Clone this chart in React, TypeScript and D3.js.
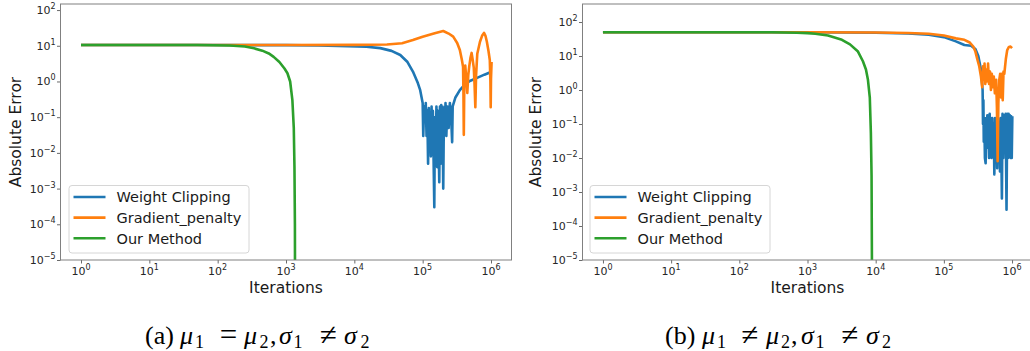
import { useEffect, useRef } from 'react';
import * as d3 from 'd3';

type Pt = [number, number];

// ---------- data ----------
const seriesNames = ['Weight Clipping', 'Gradient_penalty', 'Our Method'];
const seriesColors = ['#1f77b4', '#ff7f0e', '#2ca02c'];
const xExponents = [0, 1, 2, 3, 4, 5, 6];
const yExponents = [-5, -4, -3, -2, -1, 0, 1, 2];

// panel (a)
const weightClippingA: Pt[] = [
  [1, 10.5], [100, 10.5], [1000, 10.4], [3000, 10.2], [8000, 9.8], [15000, 9.4],
  [24000, 8.6], [35000, 7.2], [47000, 5.5], [60000, 3.5], [72000, 1.9], [85000, 0.9],
  [92000, 0.57], [100000, 0.25],
  [102000, 0.03], [105000, 0.2], [108000, 0.08], [111000, 0.25], [114000, 0.03],
  [117000, 0.15], [120000, 0.005], [123000, 0.18], [126000, 0.02], [129000, 0.12],
  [132000, 0.008], [135000, 0.2], [138000, 0.02], [141000, 0.15], [144000, 0.01],
  [148000, 0.0003], [151000, 0.1], [155000, 0.01], [159000, 0.2], [163000, 0.004],
  [167000, 0.15], [171000, 0.02], [175000, 0.0015], [179000, 0.2], [183000, 0.005],
  [187000, 0.22], [191000, 0.03], [195000, 0.2], [200000, 0.001], [205000, 0.18],
  [210000, 0.04], [216000, 0.25], [222000, 0.03], [230000, 0.2], [240000, 0.05],
  [250000, 0.25], [262000, 0.08], [270000, 0.02], [275000, 0.2], [300000, 0.35],
  [350000, 0.57], [420000, 0.85], [500000, 1.05], [650000, 1.3], [800000, 1.55],
  [1000000, 1.85],
];
const gradientPenaltyA: Pt[] = [
  [1, 10.5], [1000, 10.5], [10000, 10.6], [30000, 10.9], [50000, 11.8], [72000, 14.5],
  [100000, 18], [150000, 22.5], [200000, 26], [240000, 22], [280000, 18], [320000, 12],
  [350000, 7.6], [375000, 4], [390000, 2.6], [395000, 0.5], [400000, 0.032], [407000, 1],
  [420000, 2.8], [435000, 1.2], [450000, 0.48], [465000, 1.5], [480000, 2.6], [500000, 4.5],
  [520000, 6.3], [540000, 4], [560000, 2.4], [575000, 0.8], [590000, 0.19], [605000, 1.5],
  [630000, 6], [690000, 13], [740000, 19], [790000, 23], [830000, 19], [870000, 13],
  [920000, 7], [960000, 4], [980000, 1], [990000, 0.19], [1000000, 1.2], [1020000, 3.5],
];
const ourMethodA: Pt[] = [
  [1, 10.5], [50, 10.5], [150, 10.2], [250, 9.5], [340, 8.5], [450, 7.3], [560, 6.1],
  [660, 4.9], [800, 3.5], [950, 2.3], [1050, 1.7], [1150, 1], [1240, 0.3], [1300, 0.05],
  [1330, 0.004], [1350, 0.0001], [1360, 1e-7],
];

// panel (b)
const weightClippingB: Pt[] = [
  [1, 50], [1000, 50], [10000, 48.5], [30000, 46], [60000, 42], [100000, 36],
  [150000, 27], [200000, 21], [250000, 20], [290000, 16], [320000, 10], [350000, 4],
  [370000, 1],
  [375000, 0.1], [380000, 0.5], [385000, 0.03], [392000, 0.15], [400000, 0.01],
  [410000, 0.007], [418000, 0.15], [426000, 0.02], [434000, 0.18], [442000, 0.04],
  [450000, 0.15], [460000, 0.01], [470000, 0.2], [480000, 0.03], [490000, 0.12],
  [500000, 0.01], [512000, 0.15], [525000, 0.02], [538000, 0.1], [550000, 0.0033],
  [563000, 0.15], [576000, 0.02], [590000, 0.12], [605000, 0.005], [620000, 0.15],
  [635000, 0.03], [650000, 0.1], [665000, 0.004], [680000, 0.15], [695000, 0.02],
  [710000, 0.00065], [725000, 0.2], [745000, 0.01], [765000, 0.18], [785000, 0.02],
  [805000, 0.2], [830000, 0.0003], [850000, 0.2], [870000, 0.01], [890000, 0.2],
  [910000, 0.015], [930000, 0.18], [950000, 0.01], [970000, 0.17], [990000, 0.01],
  [1010000, 0.17],
];
const gradientPenaltyB: Pt[] = [
  [1, 50], [1000, 50], [10000, 49], [30000, 47.5], [60000, 45], [100000, 40],
  [150000, 33], [200000, 30], [240000, 25], [270000, 19], [290000, 13.5], [310000, 8],
  [330000, 5], [350000, 2.5],
  [365000, 1.2], [375000, 5], [385000, 2], [395000, 6], [405000, 1.5], [415000, 4],
  [430000, 1.8], [445000, 6], [460000, 1.5], [475000, 3.5], [490000, 1], [505000, 3],
  [520000, 1.2], [540000, 2.5], [560000, 0.8], [585000, 2], [600000, 0.3], [615000, 0.008],
  [630000, 0.4], [650000, 2], [670000, 3], [690000, 0.6], [710000, 3], [730000, 0.5],
  [750000, 3.5], [770000, 3], [810000, 8], [850000, 15], [900000, 18.5], [950000, 19],
  [1000000, 17],
];
const ourMethodB: Pt[] = [
  [1, 50], [300, 50], [700, 48.5], [1000, 47], [1300, 45], [2000, 40], [3200, 30],
  [4200, 22], [5500, 13.5], [6500, 7], [7200, 4], [7700, 2], [8200, 0.6], [8500, 0.055],
  [8700, 0.003], [8900, 1e-7],
];

type Piece = { t: string; x: number; it?: boolean; sub?: boolean; rel?: boolean };
const captionA: Piece[] = [
  { t: '(a)', x: 145 }, { t: 'μ', x: 180, it: true }, { t: '1', x: 195, sub: true },
  { t: '=', x: 228.5, rel: true }, { t: 'μ', x: 244, it: true }, { t: '2', x: 259.5, sub: true },
  { t: ',', x: 270 }, { t: 'σ', x: 279, it: true }, { t: '1', x: 293.5, sub: true },
  { t: '≠', x: 328.5, rel: true }, { t: 'σ', x: 344, it: true }, { t: '2', x: 360.5, sub: true },
];
const captionB: Piece[] = [
  { t: '(b)', x: 665 }, { t: 'μ', x: 702, it: true }, { t: '1', x: 717, sub: true },
  { t: '≠', x: 750, rel: true }, { t: 'μ', x: 766, it: true }, { t: '2', x: 781, sub: true },
  { t: ',', x: 791 }, { t: 'σ', x: 801, it: true }, { t: '1', x: 815.5, sub: true },
  { t: '≠', x: 850, rel: true }, { t: 'σ', x: 866, it: true }, { t: '2', x: 882, sub: true },
];

const panels = [
  {
    left: 60.5, right: 511.5, top: 4, bottom: 260, yTop: Math.pow(10, 2.17),
    series: [weightClippingA, gradientPenaltyA, ourMethodA],
    legendX: 69, yLabelX: 21, caption: captionA,
  },
  {
    left: 582.5, right: 1032.5, top: 4, bottom: 260, yTop: Math.pow(10, 2.53),
    series: [weightClippingB, gradientPenaltyB, ourMethodB],
    legendX: 590, yLabelX: 541, caption: captionB,
  },
];

const FONT = '"DejaVu Sans", sans-serif';

const App = () => {
  const svgRef = useRef<SVGSVGElement>(null);

  useEffect(() => {
    const svg = d3.select(svgRef.current);
    svg.selectAll('*').remove();

    panels.forEach((p, pi) => {
      const x = d3.scaleLog().domain([Math.pow(10, -0.3), Math.pow(10, 6.3)]).range([p.left, p.right]);
      const y = d3.scaleLog().domain([1e-5, p.yTop]).range([p.bottom, p.top]);
      const g = svg.append('g');

      // clip
      const clipId = `clip-${pi}`;
      g.append('clipPath').attr('id', clipId)
        .append('rect')
        .attr('x', p.left).attr('y', p.top)
        .attr('width', p.right - p.left).attr('height', p.bottom - p.top);

      // minor ticks
      const xMinor: number[] = [];
      for (let e = -1; e <= 6; e++) for (let k = 2; k <= 9; k++) {
        const v = k * Math.pow(10, e);
        if (v >= x.domain()[0] && v <= x.domain()[1]) xMinor.push(v);
      }
      const yMinor: number[] = [];
      for (let e = -5; e <= 2; e++) for (let k = 2; k <= 9; k++) {
        const v = k * Math.pow(10, e);
        if (v <= p.yTop) yMinor.push(v);
      }

      const xAxisG = g.append('g').attr('transform', `translate(0,${p.bottom})`);
      xAxisG.call(d3.axisBottom(x).tickValues(xMinor).tickSize(2).tickSizeOuter(0).tickFormat(() => ''));
      xAxisG.call(d3.axisBottom(x).tickValues(xExponents.map((e) => Math.pow(10, e))).tickSize(3.5).tickSizeOuter(0).tickFormat(() => ''));
      const yAxisG = g.append('g').attr('transform', `translate(${p.left},0)`);
      yAxisG.call(d3.axisLeft(y).tickValues(yMinor).tickSize(2).tickSizeOuter(0).tickFormat(() => ''));
      yAxisG.call(d3.axisLeft(y).tickValues(yExponents.map((e) => Math.pow(10, e))).tickSize(3.5).tickSizeOuter(0).tickFormat(() => ''));
      g.selectAll('.domain').remove();
      g.selectAll('.tick line').attr('stroke', '#444').attr('stroke-width', 0.8);

      // tick labels
      xExponents.forEach((e) => {
        const t = g.append('text')
          .attr('x', x(Math.pow(10, e))).attr('y', 274.5)
          .attr('text-anchor', 'middle')
          .attr('font-family', FONT).attr('font-size', 11).attr('fill', '#262626');
        t.append('tspan').text('10');
        t.append('tspan').attr('dy', -5).attr('font-size', 8).text(String(e).replace('-', '\u2212'));
      });
      yExponents.forEach((e) => {
        const t = g.append('text')
          .attr('x', p.left - 5).attr('y', y(Math.pow(10, e)) + 4)
          .attr('text-anchor', 'end')
          .attr('font-family', FONT).attr('font-size', 11).attr('fill', '#262626');
        t.append('tspan').text('10');
        t.append('tspan').attr('dy', -5).attr('font-size', 8).text(String(e).replace('-', '\u2212'));
      });

      // lines
      const line = d3.line<Pt>().x((d) => x(d[0])).y((d) => y(d[1]));
      const lines = g.append('g').attr('clip-path', `url(#${clipId})`);
      p.series.forEach((s, si) => {
        lines.append('path')
          .attr('d', line(s) || '')
          .attr('fill', 'none')
          .attr('stroke', seriesColors[si])
          .attr('stroke-width', 2.6)
          .attr('stroke-linejoin', 'round');
      });

      // frame
      g.append('rect')
        .attr('x', p.left).attr('y', p.top)
        .attr('width', p.right - p.left).attr('height', p.bottom - p.top)
        .attr('fill', 'none').attr('stroke', '#808080').attr('stroke-width', 1);

      // axis labels
      g.append('text')
        .attr('x', (p.left + p.right) / 2).attr('y', 293)
        .attr('text-anchor', 'middle')
        .attr('font-family', FONT).attr('font-size', 15.5).attr('fill', '#1a1a1a')
        .text('Iterations');
      g.append('text')
        .attr('transform', `translate(${p.yLabelX},${(p.top + p.bottom) / 2}) rotate(-90)`)
        .attr('text-anchor', 'middle')
        .attr('font-family', FONT).attr('font-size', 15.5).attr('fill', '#1a1a1a')
        .text('Absolute Error');

      // legend
      const lg = g.append('g');
      lg.append('rect')
        .attr('x', p.legendX).attr('y', 185.5)
        .attr('width', 180).attr('height', 67.5)
        .attr('rx', 3)
        .attr('fill', 'white').attr('fill-opacity', 0.8)
        .attr('stroke', '#d6d6d6').attr('stroke-width', 1);
      seriesNames.forEach((name, si) => {
        const ly = 197 + si * 20.6;
        lg.append('line')
          .attr('x1', p.legendX + 4.5).attr('x2', p.legendX + 36.5)
          .attr('y1', ly).attr('y2', ly)
          .attr('stroke', seriesColors[si]).attr('stroke-width', 2.6);
        lg.append('text')
          .attr('x', p.legendX + 47.5).attr('y', ly + 5.3)
          .attr('font-family', FONT).attr('font-size', 14.5).attr('fill', '#1a1a1a')
          .text(name);
      });

      // caption
      const cap = svg.append('g')
        .attr('font-family', '"Liberation Serif", "Times New Roman", serif')
        .attr('fill', '#000');
      p.caption.forEach((c) => {
        cap.append('text')
          .attr('x', c.x)
          .attr('y', c.sub ? 347.5 : c.rel ? 344.5 : 343.5)
          .attr('text-anchor', c.rel ? 'middle' : 'start')
          .attr('font-size', c.sub ? 18 : c.rel ? 31 : 26)
          .attr('font-style', c.it ? 'italic' : 'normal')
          .text(c.t);
      });
    });
  }, []);

  return (
    <svg
      ref={svgRef}
      width={1030}
      height={351}
      style={{ position: 'absolute', left: 0, top: 0, display: 'block', background: '#fff' }}
    />
  );
};

export default App;
